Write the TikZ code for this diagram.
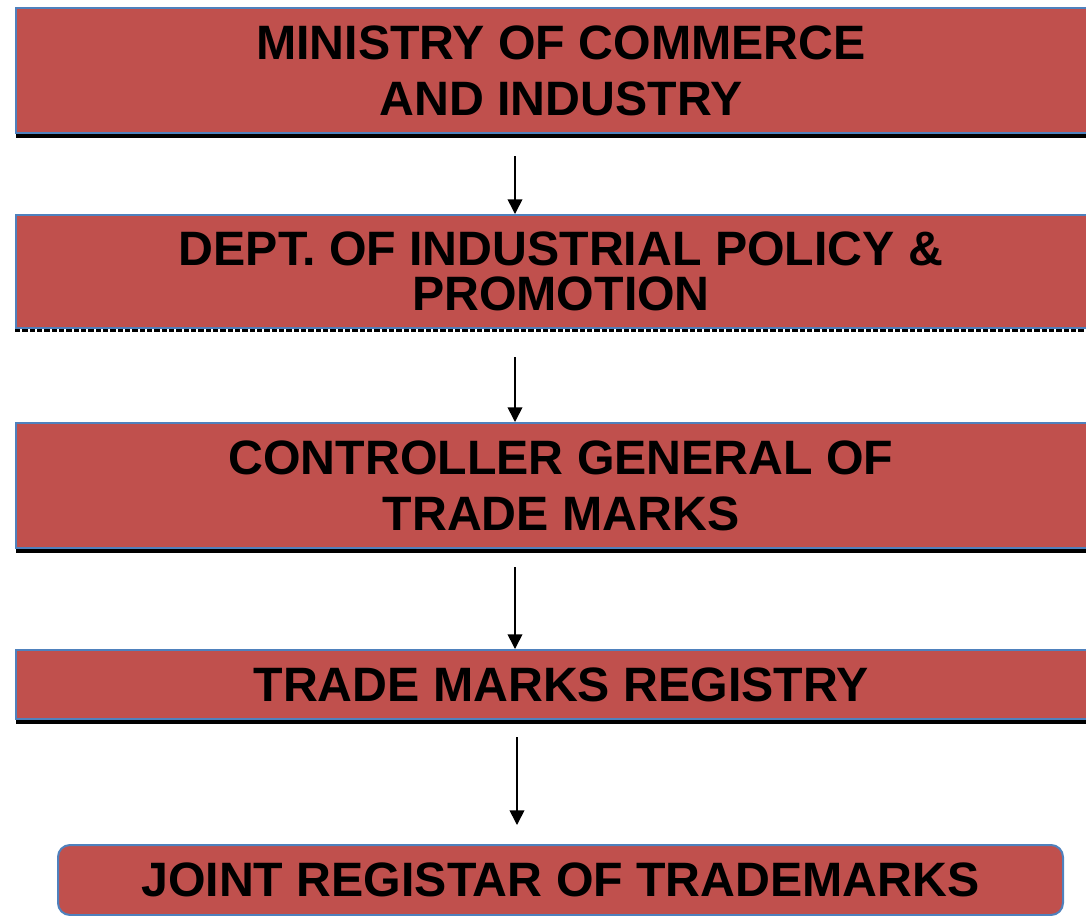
\documentclass[tikz,border=0pt]{standalone}
\usepackage{fontspec}
\setmainfont{Liberation Sans}
\usepackage{tikz}
\usetikzlibrary{positioning}
\usetikzlibrary{shadows,arrows.meta}
\definecolor{boxred}{HTML}{C0504D}
\definecolor{boxblue}{HTML}{4F81BD}

\begin{document}
\begin{tikzpicture}[x=0.75pt,y=-0.75pt,
     level/.style={rectangle,draw=boxblue,line width=1.5pt,fill=boxred,anchor=north west,
       minimum width=817.5pt,inner sep=0pt,align=center,
       font=\bfseries\fontsize{36.2}{42}\selectfont},
     lshadow/.style={drop shadow={shadow xshift=0pt,shadow yshift=-3.5pt,opacity=1,fill=black}},
     arr/.style={-{Triangle[length=11pt,width=11pt]},line width=1.2pt}]
     \useasboundingbox (0,0) rectangle (1086,915);
     % chain of offices
     \node[level,lshadow,minimum height=93.75pt] (ministry) at (15,7) {MINISTRY OF COMMERCE\\AND INDUSTRY};
     \draw[dash pattern=on 4pt off 1.5pt,line width=3pt] ([yshift=-2.2pt]15,327) -- ([yshift=-2.2pt]1105,327);
     \node[level,minimum height=84.75pt] (dipp) at (15,214) {DEPT. OF INDUSTRIAL POLICY \&\\[-8.25pt]PROMOTION};
     \node[level,lshadow,minimum height=93.75pt] (cgtm) at (15,422) {CONTROLLER GENERAL OF\\TRADE MARKS};
     \node[level,lshadow,minimum height=51.75pt] (registry) at (15,649) {TRADE MARKS REGISTRY};
     \node[level,rounded corners=9pt,minimum width=753.75pt,minimum height=52.5pt] (joint) at (57,844) {JOINT REGISTAR OF TRADEMARKS};
     % arrows
     \draw[arr] ([shift={(-46,22)}]ministry.south) -- ([shift={(-46,0)}]dipp.north);
     \draw[arr] ([shift={(-46,28)}]dipp.south) -- ([shift={(-46,0)}]cgtm.north);
     \draw[arr] ([shift={(-46,18)}]cgtm.south) -- ([shift={(-46,0)}]registry.north);
     \draw[arr] ([shift={(-44,17)}]registry.south) -- ([shift={(-43.5,-19)}]joint.north);
\end{tikzpicture}
\end{document}
